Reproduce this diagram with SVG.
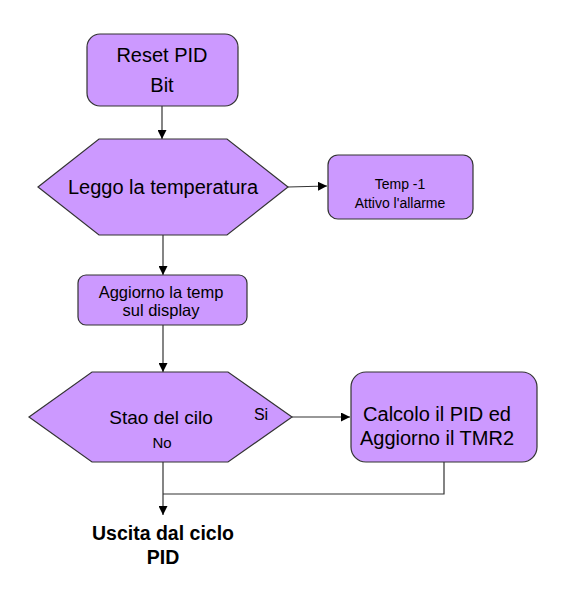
<svg xmlns="http://www.w3.org/2000/svg" width="568" height="609" viewBox="0 0 568 609">
<defs>
<marker id="ah" viewBox="0 0 10 10" refX="10" refY="5" markerWidth="9" markerHeight="9" markerUnits="userSpaceOnUse" orient="auto">
<path d="M0,0 L10,5 L0,10 z" fill="#000"/>
</marker>
<style>
.shape{fill:#cc99ff;stroke:#333;stroke-width:1.2}
.t{font-family:"Liberation Sans",Arial,sans-serif;fill:#000;text-anchor:middle}
.c{fill:none;stroke:#333;stroke-width:1.2}
</style>
</defs>
<rect width="568" height="609" fill="#fff"/>
<g id="connectors">
<line class="c" x1="162" y1="106" x2="162" y2="139" marker-end="url(#ah)"/>
<line class="c" x1="288" y1="187" x2="327" y2="186" marker-end="url(#ah)"/>
<line class="c" x1="163" y1="235" x2="163" y2="275" marker-end="url(#ah)"/>
<line class="c" x1="163" y1="325" x2="163" y2="372" marker-end="url(#ah)"/>
<line class="c" x1="292" y1="417" x2="350" y2="417" marker-end="url(#ah)"/>
<polyline class="c" points="444,462 444,494 163,494"/>
<line class="c" x1="163" y1="462" x2="163" y2="515" marker-end="url(#ah)"/>
</g>
<g id="reset">
<rect class="shape" x="87" y="34" width="151" height="72" rx="13"/>
<text class="t" x="162" y="62" font-size="20">Reset PID</text>
<text class="t" x="162" y="92" font-size="20">Bit</text>
</g>
<g id="leggo">
<polygon class="shape" points="38,187 99,139 227,139 288,187 227,235 99,235"/>
<text class="t" x="163" y="194" font-size="20">Leggo la temperatura</text>
</g>
<g id="temp">
<rect class="shape" x="328" y="155" width="145" height="64" rx="10"/>
<text class="t" x="400" y="189" font-size="14">Temp -1</text>
<text class="t" x="400" y="208" font-size="14">Attivo l'allarme</text>
</g>
<g id="aggiorno">
<rect class="shape" x="78" y="275" width="169" height="50" rx="8"/>
<text class="t" x="161" y="298" font-size="16.5">Aggiorno la temp</text>
<text class="t" x="161" y="316" font-size="16.5">sul display</text>
</g>
<g id="stato">
<polygon class="shape" points="29,417 92,372 228,372 292,417 228,462 92,462"/>
<text class="t" x="161" y="424" font-size="19">Stao del cilo</text>
<text class="t" x="261" y="420" font-size="16">Si</text>
<text class="t" x="162" y="448" font-size="15">No</text>
</g>
<g id="calcolo">
<rect class="shape" x="351" y="372" width="186" height="90" rx="15"/>
<text class="t" x="437" y="421" font-size="20">Calcolo il PID ed</text>
<text class="t" x="437" y="445" font-size="20">Aggiorno il TMR2</text>
</g>
<g id="uscita">
<text class="t" x="163" y="540" font-size="19.5" font-weight="bold">Uscita dal ciclo</text>
<text class="t" x="163" y="564" font-size="19.5" font-weight="bold">PID</text>
</g>
</svg>
